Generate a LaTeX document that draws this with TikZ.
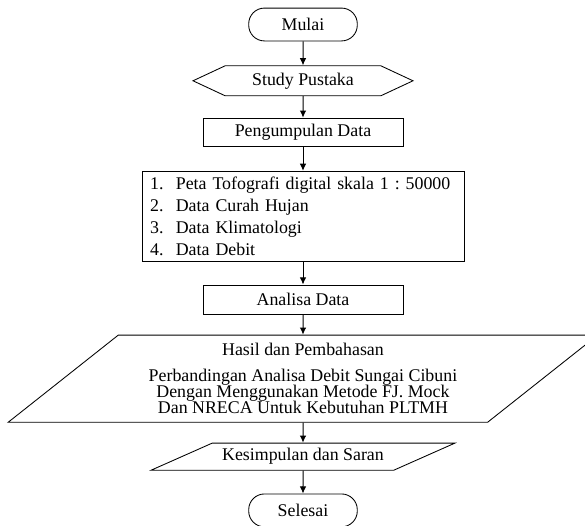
\documentclass[tikz,border=0pt]{standalone}
\usepackage{fontspec}
\setmainfont{Liberation Serif}
\usetikzlibrary{shapes.geometric, shapes.symbols, arrows.meta, positioning}
\frenchspacing
\newcommand{\flowfont}{\fontsize{12.5}{15}\selectfont}
\tikzstyle{startstop} = [rectangle, rounded corners=11pt, minimum width=76pt, minimum height=23pt, text centered, draw=black, line width=0.6pt, font=\flowfont]
\tikzstyle{prep} = [signal, signal to=east and west, signal pointer angle=50, minimum width=154pt, minimum height=21pt, inner sep=1pt, draw=black, line width=0.6pt, font=\flowfont]
\tikzstyle{process} = [rectangle, minimum width=140pt, minimum height=19.6pt, inner sep=1pt, text centered, draw=black, line width=0.6pt, font=\flowfont]
\tikzstyle{datalist} = [rectangle, minimum width=225.4pt, minimum height=63pt, text width=214pt, inner xsep=5.7pt, inner ysep=0pt, align=left, draw=black, line width=0.6pt, font=\fontsize{12.5}{15.5}\selectfont]
\tikzstyle{iobig} = [trapezium, trapezium left angle=38.3, trapezium right angle=141.7, minimum width=388pt, minimum height=61pt, inner sep=1pt, align=center, draw=black, line width=0.6pt, font=\fontsize{12.5}{11.4}\selectfont]
\tikzstyle{io} = [trapezium, trapezium left angle=23.9, trapezium right angle=156.1, minimum width=198pt, minimum height=19pt, inner ysep=1pt, inner xsep=-12pt, text centered, draw=black, line width=0.6pt, font=\flowfont]
\tikzstyle{arrow} = [line width=0.7pt,-{Latex[length=5pt,width=4.6pt]}]

\begin{document}
\begin{tikzpicture}
  \useasboundingbox (-212.1pt,17.15pt) rectangle (197.4pt,-350.35pt);
  \node[startstop] (start) {Mulai};
  \node[prep, below=16.8pt of start] (study) {Study Pustaka};
  \node[process, below=15pt of study] (kumpul) {Pengumpulan Data};
  \node[datalist, below=17pt of kumpul] (data) {%
    \makebox[18pt][l]{1.}Peta Tofografi digital skala 1 : 50000\\
    \makebox[18pt][l]{2.}Data Curah Hujan\\
    \makebox[18pt][l]{3.}Data Klimatologi\\
    \makebox[18pt][l]{4.}Data Debit};
  \node[process, minimum height=20.5pt, below=16pt of data] (analisa) {Analisa Data};
  \node[iobig, below=14pt of analisa] (hasil) {Hasil dan Pembahasan\\[6.3pt]
    Perbandingan Analisa Debit Sungai Cibuni\\
    Dengan Menggunakan Metode FJ. Mock\\
    Dan NRECA Untuk Kebutuhan PLTMH};
  \node[io, below=14pt of hasil] (simpul) {Kesimpulan dan Saran};
  \node[startstop, below=16pt of simpul] (end) {Selesai};

  \draw[arrow] (start) -- (study);
  \draw[arrow] (study) -- (kumpul);
  \draw[arrow] (kumpul) -- (data);
  \draw[arrow] (data) -- (analisa);
  \draw[arrow] (analisa) -- (hasil);
  \draw[arrow] (hasil) -- (simpul);
  \draw[arrow] (simpul) -- (end);
\end{tikzpicture}
\end{document}
